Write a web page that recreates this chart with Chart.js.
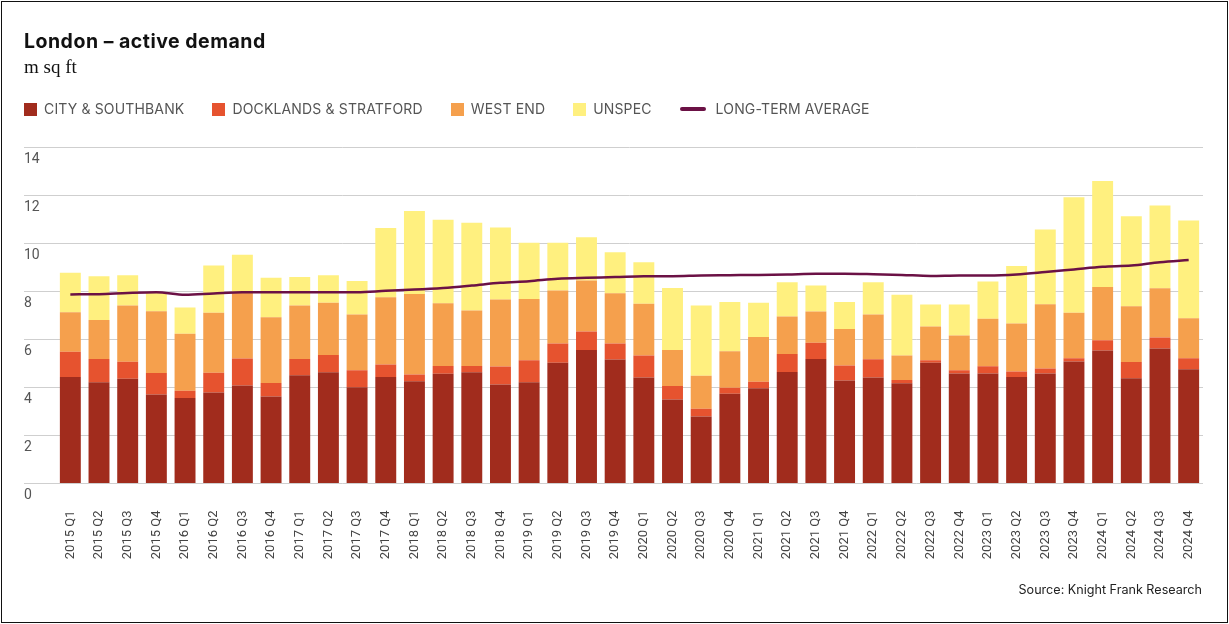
<!DOCTYPE html>
<html>
<head>
<meta charset="utf-8">
<script src="https://cdn.jsdelivr.net/npm/chart.js@4"></script>
<style>
  html, body { margin: 0; padding: 0; background: #fff; }
  #frame { position: relative; width: 1229px; height: 624px; overflow: hidden; }
  #border { position: absolute; left: 1px; top: 1px; width: 1225px; height: 620px; border: 1px solid #111; }
  #chart { position: absolute; left: 0; top: 0; }
  .title { position: absolute; left: 24px; top: 32px; font: bold 19.5px Inter, sans-serif; line-height: 19px; color: #111; letter-spacing: 0.5px; }
  .sub { position: absolute; left: 24px; top: 57px; font: 19px "Liberation Serif", serif; line-height: 19px; color: #111; }
  #legend { position: absolute; left: 24px; top: 102px; display: flex; align-items: center; gap: 28px; font: 14px Inter, sans-serif; line-height: 14px; color: #555; letter-spacing: 0.15px; }
  #legend .item { display: flex; align-items: center; }
  #legend .box { width: 13px; height: 13px; margin-right: 7px; }
  #legend .line { width: 26px; height: 4.5px; border-radius: 3px; margin-right: 10px; }
  .source { position: absolute; right: 27px; top: 583px; font: 12.6px Inter, sans-serif; line-height: 13px; color: #222; }
</style>
</head>
<body>
<div id="frame">
  <canvas id="chart" width="1229" height="624"></canvas>
  <div class="title">London – active demand</div>
  <div class="sub">m sq ft</div>
  <div id="legend"></div>
  <div class="source">Source: Knight Frank Research</div>
  <div id="border"></div>
</div>
<script>
const quarters = [
  '2015 Q1','2015 Q2','2015 Q3','2015 Q4','2016 Q1','2016 Q2','2016 Q3','2016 Q4',
  '2017 Q1','2017 Q2','2017 Q3','2017 Q4','2018 Q1','2018 Q2','2018 Q3','2018 Q4',
  '2019 Q1','2019 Q2','2019 Q3','2019 Q4','2020 Q1','2020 Q2','2020 Q3','2020 Q4',
  '2021 Q1','2021 Q2','2021 Q3','2021 Q4','2022 Q1','2022 Q2','2022 Q3','2022 Q4',
  '2023 Q1','2023 Q2','2023 Q3','2023 Q4','2024 Q1','2024 Q2','2024 Q3','2024 Q4'
];

const citySouthbank = [4.44,4.22,4.36,3.71,3.56,3.79,4.08,3.63,4.51,4.64,4.01,4.44,4.26,4.57,4.64,4.13,4.22,5.03,5.56,5.17,
  4.42,3.50,2.79,3.74,3.97,4.65,5.19,4.29,4.42,4.18,5.03,4.58,4.58,4.44,4.58,5.08,5.54,4.39,5.63,4.76];
const docklandsStratford = [1.05,0.97,0.71,0.89,0.30,0.82,1.13,0.56,0.68,0.71,0.71,0.52,0.28,0.33,0.26,0.75,0.92,0.80,0.77,0.66,
  0.91,0.56,0.32,0.25,0.27,0.75,0.67,0.63,0.76,0.13,0.11,0.14,0.31,0.23,0.21,0.14,0.43,0.67,0.45,0.46];
const westEnd = [1.65,1.62,2.35,2.58,2.38,2.50,2.73,2.74,2.23,2.18,2.32,2.80,3.36,2.61,2.31,2.79,2.55,2.21,2.13,2.10,
  2.16,1.50,1.38,1.52,1.86,1.56,1.31,1.52,1.86,1.02,1.40,1.45,1.97,2.00,2.68,1.89,2.22,2.33,2.06,1.67];
const unspec = [1.64,1.83,1.26,0.77,1.09,1.97,1.59,1.64,1.18,1.15,1.40,2.89,3.45,3.48,3.65,3.00,2.34,1.99,1.80,1.71,
  1.73,2.59,2.93,2.05,1.43,1.43,1.08,1.12,1.35,2.53,0.92,1.29,1.56,2.39,3.11,4.82,4.41,3.75,3.44,4.07];
const longTermAvg = [7.88,7.89,7.94,7.97,7.86,7.92,7.97,7.97,7.97,7.97,7.97,8.03,8.08,8.15,8.25,8.36,8.43,8.53,8.57,8.60,
  8.64,8.64,8.67,8.68,8.69,8.71,8.74,8.74,8.72,8.69,8.65,8.67,8.67,8.71,8.81,8.92,9.03,9.08,9.22,9.31];

const yTicks = [0, 2, 4, 6, 8, 10, 12, 14];

const bar = (label, data, colour) => ({
  type: 'bar', label, data, backgroundColor: colour, stack: 'demand', order: 1,
  barPercentage: 0.73, categoryPercentage: 1
});

const datasets = [
  bar('CITY & SOUTHBANK', citySouthbank, '#a12c1d'),
  bar('DOCKLANDS & STRATFORD', docklandsStratford, '#e6532f'),
  bar('WEST END', westEnd, '#f5a04d'),
  bar('UNSPEC', unspec, '#fff07f'),
  {
    type: 'line', label: 'LONG-TERM AVERAGE', data: longTermAvg, stack: 'avg', order: 0,
    borderColor: '#6b1145', borderWidth: 2.5, pointRadius: 0, cubicInterpolationMode: 'monotone', fill: false
  }
];

document.getElementById('legend').innerHTML = datasets.map((d) => d.type === 'line'
  ? `<div class="item"><span class="line" style="background:${d.borderColor}"></span>${d.label}</div>`
  : `<div class="item"><span class="box" style="background:${d.backgroundColor}"></span>${d.label}</div>`
).join('');

new Chart(document.getElementById('chart'), {
  data: { labels: quarters, datasets },
  options: {
    responsive: false,
    animation: false,
    layout: { padding: { left: 24, right: 26, top: 147.5, bottom: 0 } },
    plugins: { legend: { display: false }, tooltip: { enabled: false } },
    scales: {
      x: {
        stacked: true,
        grid: { display: false },
        border: { display: false },
        ticks: {
          autoSkip: false, minRotation: 90, maxRotation: 90, padding: 19,
          color: '#444', font: { family: 'Roboto', size: 13 }
        },
        afterFit(axis) { axis.height = 140.5; }
      },
      y: {
        stacked: true,
        min: 0, max: 14,
        afterBuildTicks(axis) { axis.ticks = yTicks.map((v) => ({ value: v })); },
        grid: { color: '#cfcfcf', lineWidth: 1, drawTicks: true, tickLength: 32 },
        border: { display: false },
        ticks: {
          crossAlign: 'far', labelOffset: 12, padding: 0,
          color: '#555', font: { family: 'Roboto', size: 14 }
        },
        afterFit(axis) { axis.width = 32; }
      }
    }
  }
});
</script>
</body>
</html>
